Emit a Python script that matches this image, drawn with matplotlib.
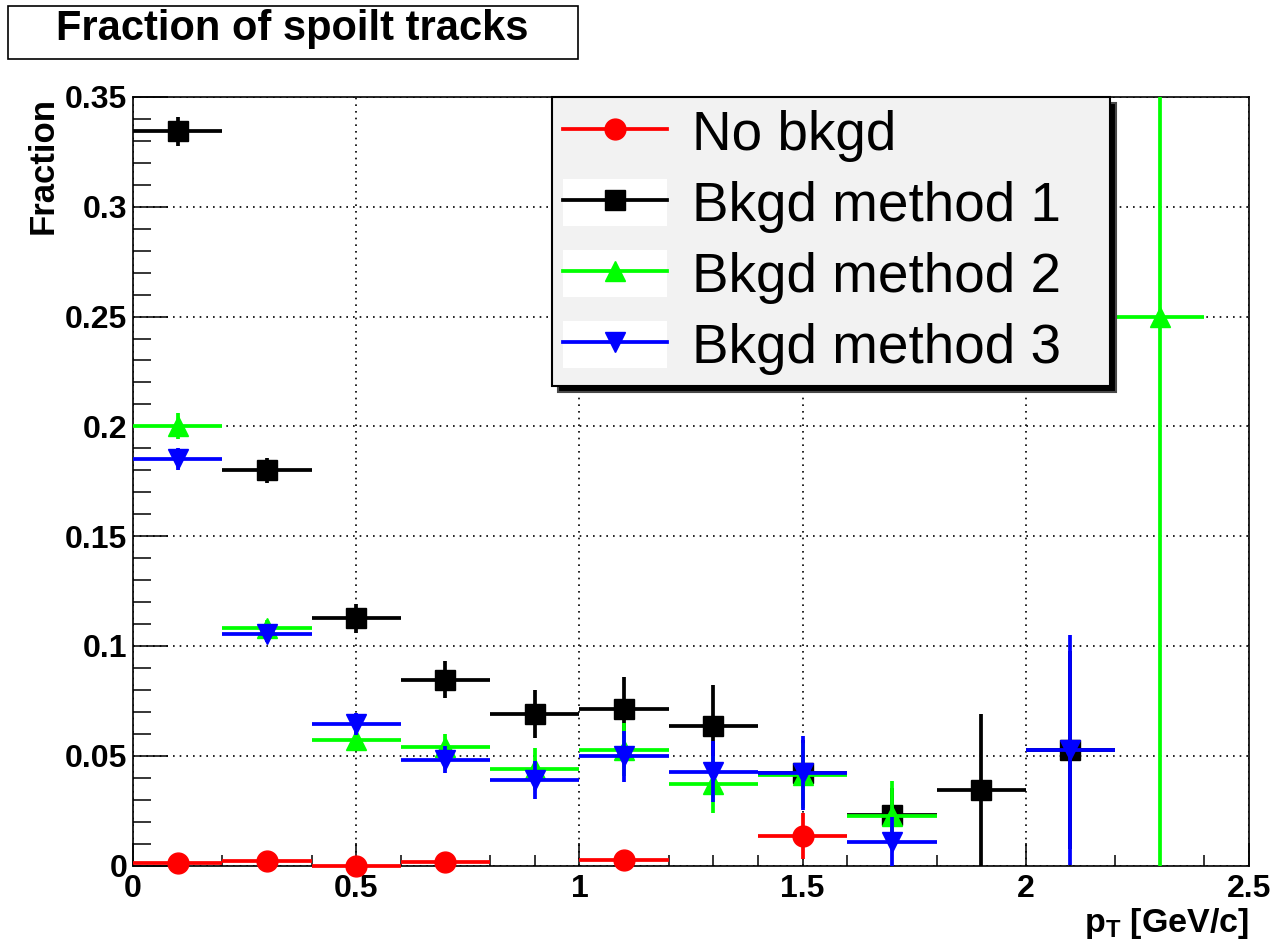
import numpy as np
import matplotlib
matplotlib.use("Agg")
import matplotlib.pyplot as plt
from matplotlib.patches import Rectangle
from matplotlib.lines import Line2D
from matplotlib.ticker import MultipleLocator, FormatStrFormatter

plt.rcParams['font.family'] = 'Liberation Sans'
plt.rcParams['mathtext.fontset'] = 'custom'
plt.rcParams['mathtext.bf'] = 'Liberation Sans:bold'
plt.rcParams['mathtext.rm'] = 'Liberation Sans:bold'

nan = np.nan

# pT bins (GeV/c), 0.2 wide
pt_centers = [0.1, 0.3, 0.5, 0.7, 0.9, 1.1, 1.3, 1.5, 1.7, 1.9, 2.1, 2.3]
bin_half_width = 0.1

no_bkgd = [0.0011, 0.0020, 0.0000, 0.0015, nan, 0.0025, nan, 0.0135, nan, nan, nan, nan]
no_bkgd_err = [0.001, 0.001, 0.001, 0.001, nan, 0.001, nan, 0.0104, nan, nan, nan, nan]

method1 = [0.3345, 0.180, 0.1125, 0.0847, 0.069, 0.0715, 0.0637, 0.042, 0.0231, 0.0345, 0.0527, nan]
method1_err = [0.0066, 0.0058, 0.0068, 0.0085, 0.011, 0.0145, 0.0184, 0.015, 0.012, 0.0345, 0.045, nan]

method2 = [0.2002, 0.108, 0.0572, 0.0538, 0.044, 0.0527, 0.037, 0.041, 0.0226, nan, nan, 0.25]
method2_err = [0.006, 0.004, 0.005, 0.006, 0.0095, 0.012, 0.013, 0.015, 0.0157, nan, nan, 0.25]

method3 = [0.185, 0.1056, 0.0645, 0.0482, 0.039, 0.0497, 0.0427, 0.0421, 0.0109, nan, 0.0527, nan]
method3_err = [0.005, 0.004, 0.005, 0.006, 0.0085, 0.0115, 0.014, 0.017, 0.011, nan, 0.0523, nan]

series = [
    ("No bkgd", no_bkgd, no_bkgd_err, '#ff0000', 'o'),
    ("Bkgd method 1", method1, method1_err, '#000000', 's'),
    ("Bkgd method 2", method2, method2_err, '#00ff00', '^'),
    ("Bkgd method 3", method3, method3_err, '#0000ff', 'v'),
]

W, H = 1278, 946
fig = plt.figure(figsize=(W / 100, H / 100), dpi=100)
ax = fig.add_axes([133 / W, 1 - 865.5 / H, 1116 / W, 768.5 / H])

x = np.array(pt_centers)
handles = []
for i, (label, vals, errs, col, mk) in enumerate(series):
    ax.errorbar(x, vals, yerr=errs, xerr=bin_half_width, fmt=mk, color=col,
                ms=15, elinewidth=2.7, capsize=0, zorder=3 + i,
                clip_on=(i != 0))
    line = Line2D([], [], color=col, lw=2.7, marker=mk, ms=15)
    if i == 0:
        handles.append(line)
    else:
        # white fill behind the sample, like the ROOT legend
        box = Rectangle((0, 0), 1, 1, facecolor='white', edgecolor='none')
        handles.append((box, line))

ax.set_xlim(0, 2.5)
ax.set_ylim(0, 0.35)

ax.xaxis.set_major_locator(MultipleLocator(0.5))
ax.xaxis.set_minor_locator(MultipleLocator(0.1))
ax.yaxis.set_major_locator(MultipleLocator(0.05))
ax.yaxis.set_minor_locator(MultipleLocator(0.01))
ax.xaxis.set_major_formatter(FormatStrFormatter('%g'))
ax.yaxis.set_major_formatter(FormatStrFormatter('%g'))

ax.tick_params(axis='both', which='both', direction='in', top=False, right=False,
               width=1.1, labelsize=23)
ax.tick_params(axis='y', which='major', length=25, pad=4)
ax.tick_params(axis='y', which='minor', length=13)
ax.tick_params(axis='x', which='major', length=16.5, pad=6)
ax.tick_params(axis='x', which='minor', length=8)
for lab in ax.get_xticklabels() + ax.get_yticklabels():
    lab.set_fontweight('bold')
for sp in ax.spines.values():
    sp.set_linewidth(1.2)

ax.grid(True, which='major', color='black', linestyle=(0, (1, 3)), linewidth=1.2)
ax.set_axisbelow(True)

ax.set_ylabel('Fraction', loc='top', fontsize=25, fontweight='bold')
ax.yaxis.set_label_coords(-0.066, 1.0)
ax.set_xlabel(r'$\mathbf{p_{T}}$ [GeV/c]', loc='right', fontsize=24.5, fontweight='bold')
ax.xaxis.set_label_coords(1.0, -0.053)

leg = ax.legend(handles, [s[0] for s in series], loc='upper left',
                bbox_to_anchor=(419 / 1116, 0, 558 / 1116, 1.0), mode='expand',
                borderaxespad=0, fontsize=39.5, frameon=True, fancybox=False,
                facecolor='#f2f2f2', edgecolor='black', framealpha=1,
                handlelength=1.9, handleheight=0.95, handletextpad=0.45,
                borderpad=0.2, labelspacing=0.3,
                shadow={'ox': 4, 'oy': -4, 'facecolor': 'black', 'alpha': 1})
leg.get_frame().set_linewidth(1.5)
leg.set_zorder(20)

# title box
fig.add_artist(Rectangle((8 / W, 1 - 59 / H), 570 / W, 53 / H,
                         transform=fig.transFigure, facecolor='white',
                         edgecolor='black', linewidth=1.2))
fig.text(292 / W, 1 - 40 / H, 'Fraction of spoilt tracks', ha='center', va='baseline',
         fontsize=30, fontweight='bold')

fig.savefig('out.png', dpi=100)
